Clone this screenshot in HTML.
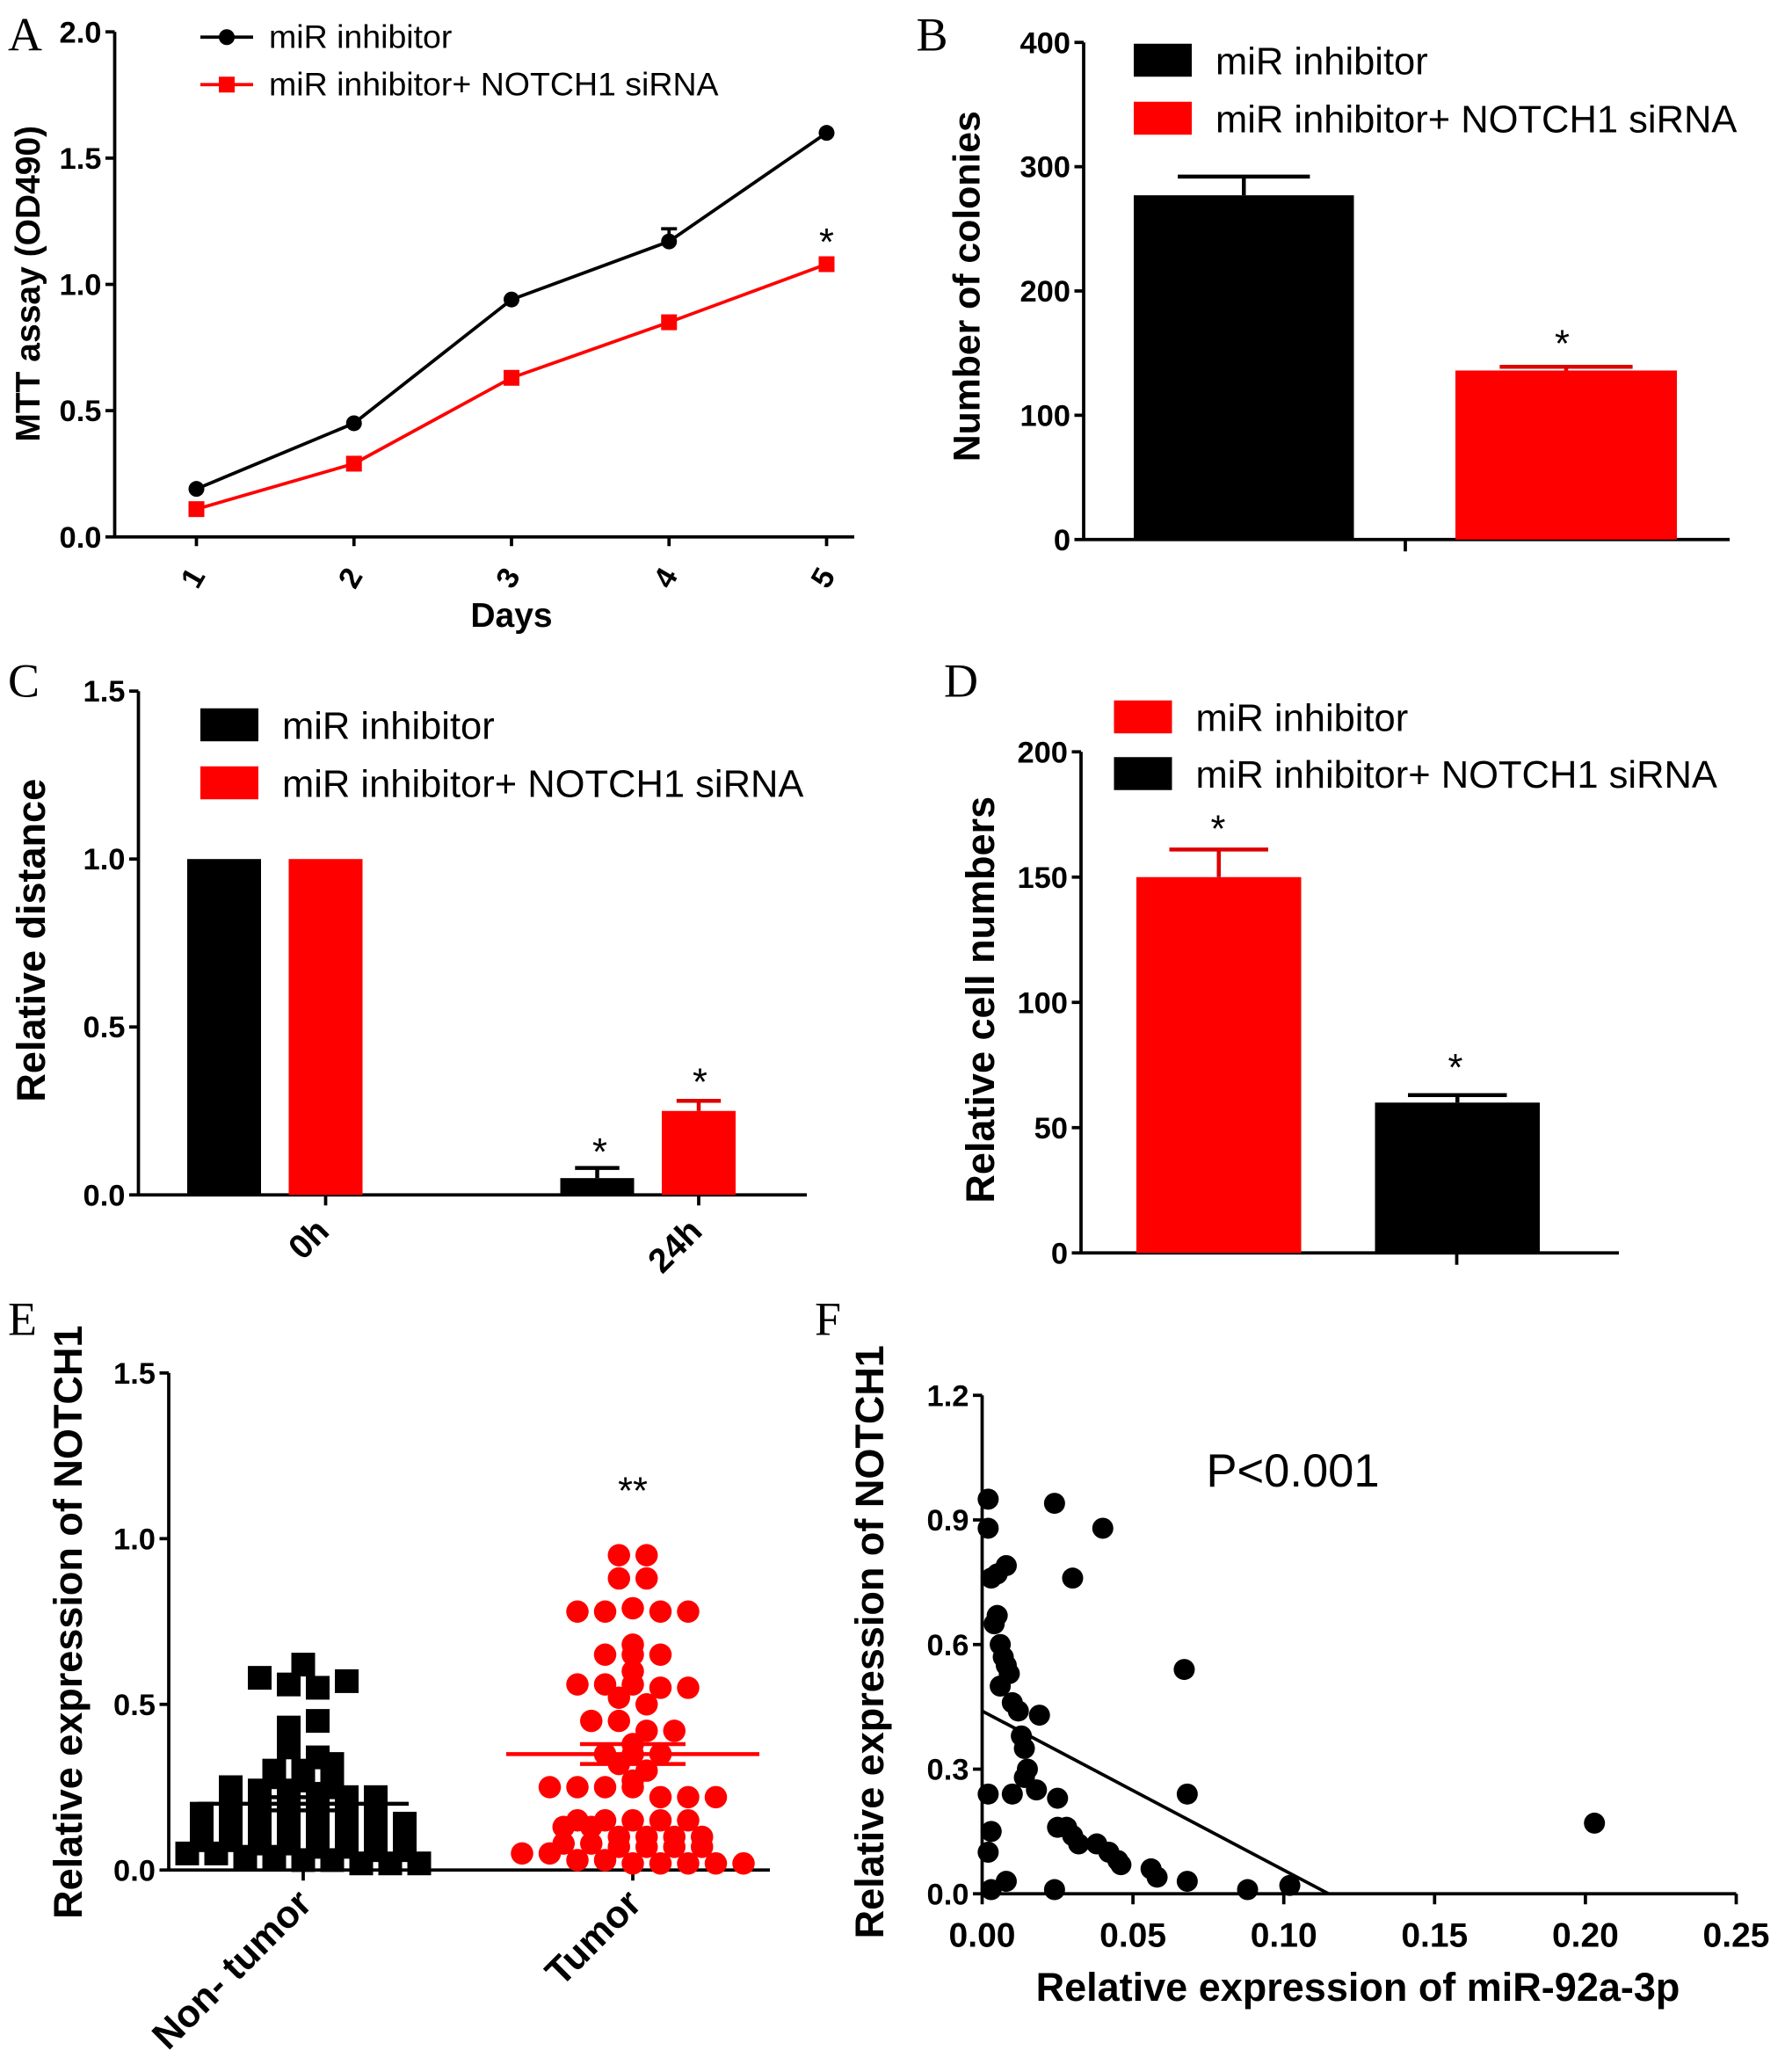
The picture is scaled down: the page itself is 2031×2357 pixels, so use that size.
<!DOCTYPE html>
<html><head><meta charset="utf-8"><style>
html,body{margin:0;padding:0;background:#fff;}
svg{display:block;font-family:"Liberation Sans",Arial,sans-serif;}
.tk{font-size:23px;font-weight:bold;}
.at{font-size:26px;font-weight:bold;}
.lg{font-size:29px;}
.pl{font-family:"Liberation Serif",serif;font-size:36px;}
</style></head><body>
<svg id="fig" width="2031" height="2357" viewBox="0 0 1354 1571" xmlns="http://www.w3.org/2000/svg">
<g id="A"></g>
<g id="B"></g>
<g id="C"></g>
<g id="D"></g>
<g id="E"></g>
<g id="F"></g>
</svg>
<script>
// Panel A data
const aDays = [1,2,3,4,5];
const aBlack = [0.19,0.45,0.94,1.17,1.60];
const aBlackErr = [0.01,0.01,0.01,0.05,0.01];
const aRed = [0.11,0.29,0.63,0.85,1.08];
const aTicks = [0,0.5,1.0,1.5,2.0];
const aTickLabels = ["0.0","0.5","1.0","1.5","2.0"];
// Panel B
const bValues = [277,136];
const bErr = [15,3];
const bTicks = [0,100,200,300,400];
// Panel C
const cGroups = ["0h","24h"];
const cBlack = [1.0,0.05];
const cBlackErr = [0,0.03];
const cRed = [1.0,0.25];
const cRedErr = [0,0.03];
const cTicks = [0,0.5,1.0,1.5];
const cTickLabels = ["0.0","0.5","1.0","1.5"];
// Panel D
const dValues = [150,60];
const dErr = [11,3];
const dTicks = [0,50,100,150,200];
// Panel E
const eNonTumor = [0.58,0.56,0.55,0.57,0.62,0.43,0.37,0.45,0.34,0.30,0.30,0.32,0.28,0.27,0.26,0.25,0.24,0.24,0.23,0.22,0.22,0.21,0.20,0.20,0.19,0.18,0.18,0.17,0.17,0.16,0.16,0.15,0.15,0.14,0.14,0.13,0.13,0.12,0.12,0.11,0.11,0.10,0.10,0.09,0.09,0.08,0.08,0.07,0.07,0.06,0.06,0.05,0.05,0.04,0.04,0.03,0.03,0.02,0.02,0.02];
const eTumor = [0.95,0.95,0.88,0.88,0.78,0.78,0.79,0.78,0.78,0.68,0.65,0.65,0.65,0.60,0.56,0.56,0.56,0.55,0.55,0.52,0.50,0.45,0.45,0.42,0.42,0.38,0.35,0.35,0.35,0.32,0.30,0.27,0.25,0.25,0.25,0.25,0.22,0.22,0.22,0.15,0.15,0.15,0.15,0.15,0.13,0.13,0.10,0.10,0.10,0.10,0.08,0.08,0.07,0.07,0.07,0.07,0.05,0.05,0.03,0.03,0.02,0.02,0.02,0.02,0.02];
const eMeans = [0.20,0.35];
const eSem = [0.02,0.03];
const eTicks = [0,0.5,1.0,1.5];
const eTickLabels = ["0.0","0.5","1.0","1.5"];
// Panel F
const fX = [0.002,0.024,0.040,0.002,0.008,0.005,0.003,0.030,0.005,0.004,0.006,0.007,0.008,0.009,0.006,0.067,0.010,0.012,0.019,0.013,0.014,0.015,0.014,0.010,0.002,0.018,0.025,0.068,0.025,0.028,0.030,0.032,0.038,0.042,0.045,0.046,0.056,0.058,0.068,0.088,0.102,0.003,0.002,0.008,0.003,0.024,0.203];
const fY = [0.95,0.94,0.88,0.88,0.79,0.77,0.76,0.76,0.67,0.65,0.60,0.57,0.55,0.53,0.50,0.54,0.46,0.44,0.43,0.38,0.35,0.30,0.28,0.24,0.24,0.25,0.23,0.24,0.16,0.16,0.14,0.12,0.12,0.10,0.08,0.07,0.06,0.04,0.03,0.01,0.02,0.15,0.10,0.03,0.01,0.01,0.17];
const fFit = [0.44,-3.83];
const fXTicks = [0,0.05,0.10,0.15,0.20,0.25];
const fXLabels = ["0.00","0.05","0.10","0.15","0.20","0.25"];
const fYTicks = [0,0.3,0.6,0.9,1.2];
const fYLabels = ["0.0","0.3","0.6","0.9","1.2"];

const NS="http://www.w3.org/2000/svg";
function el(p,tag,at){const e=document.createElementNS(NS,tag);for(const k in at)e.setAttribute(k,at[k]);p.appendChild(e);return e;}
function txt(p,x,y,s,cls,anchor,rot){const t=el(p,'text',{x:x,y:y,'class':cls,'text-anchor':anchor||'start'});if(rot)t.setAttribute('transform','rotate('+rot+' '+x+' '+y+')');t.textContent=s;return t;}
function line(p,x1,y1,x2,y2,c,w){return el(p,'line',{x1:x1,y1:y1,x2:x2,y2:y2,stroke:c||'#000','stroke-width':w||2.5});}
function yAxis(p,x,y0,y1,ticks,labels,sy){
  const a=line(p,x,y0,x,y1);
  
  
  ticks.forEach((v,i)=>{
    const t=line(p,x-7,sy(v),x,sy(v));
    
    
    const l=txt(p,x-10,sy(v)+8,labels[i],'tk','end');
    
    
  });
}
function xAxis(p,x0,x1,y){const a=line(p,x0,y,x1,y);
  
  }
function letter(p,s,x,y){const t=txt(p,x,y,s,'pl');
  
  }
function title(p,s,x,y,rot,name,size){const t=txt(p,x,y,s,'at','middle',rot);
  if(size)t.setAttribute('style','font-size:'+size+'px');
  
  }
function legBox(p,x,y,c,s,name){
  const r=el(p,'rect',{x:x,y:y,width:44,height:25,fill:c});
  
  
  const t=txt(p,x+62,y+23,s,'lg');
  
  
}
function bar(p,x,w,v,err,sy,c,name){
  const top=sy(v);
  const r=el(p,'rect',{x:x,y:top,width:w,height:sy(0)-top,fill:c});
  
  
  if(err>0){const e=line(p,x+w/2,top,x+w/2,sy(v+err),c==='#f00'?'#d00':'#000',3);
    
    
    const cap=line(p,x+w*0.2,sy(v+err),x+w*0.8,sy(v+err),c==='#f00'?'#d00':'#000',3);
    
    }
}
function star(p,x,y,s){const t=txt(p,x,y,s,'lg','middle');
  
  }

// ---------- A
(function(){
const g=document.getElementById('A');
const sy=v=>407-v*191.5, sx=d=>149+(d-1)*119.5;
letter(g,'A',6,38);
yAxis(g,87,407,24,aTicks,aTickLabels,sy);
xAxis(g,87,648,407);
aDays.forEach(d=>{const t=line(g,sx(d),407,sx(d),414);
  
  
  const l=txt(g,sx(d)+4,442,String(d),'tk','middle',-60);
  
  });
title(g,'Days',388,475,0,'x-axis-title');
title(g,'MTT assay (OD490)',30,215,-90,'y-axis-title');
const pb=aDays.map((d,i)=>sx(d)+','+sy(aBlack[i])).join(' ');
const lb=el(g,'polyline',{points:pb,fill:'none',stroke:'#000','stroke-width':2.5});


const pr=aDays.map((d,i)=>sx(d)+','+sy(aRed[i])).join(' ');
const lr=el(g,'polyline',{points:pr,fill:'none',stroke:'#f00','stroke-width':2.5});


aDays.forEach((d,i)=>{
  if(aBlackErr[i]>0.02){const e=line(g,sx(d),sy(aBlack[i]),sx(d),sy(aBlack[i]+aBlackErr[i]),'#000',2.5);
    
    
    const c=line(g,sx(d)-6,sy(aBlack[i]+aBlackErr[i]),sx(d)+6,sy(aBlack[i]+aBlackErr[i]),'#000',2.5);
    
    }
  const c=el(g,'circle',{cx:sx(d),cy:sy(aBlack[i]),r:6,fill:'#000'});
  
  
  const r=el(g,'rect',{x:sx(d)-6,y:sy(aRed[i])-6,width:12,height:12,fill:'#f00'});
  
  
});
star(g,627,193,'*');
const l1=line(g,152,28,192,28,'#000',2.5);


const m1=el(g,'circle',{cx:172,cy:28,r:6,fill:'#000'});


const t1=txt(g,204,36,'miR inhibitor','tk');t1.setAttribute('style','font-weight:normal;font-size:25px');


const l2=line(g,152,64,192,64,'#f00',2.5);


const m2=el(g,'rect',{x:166,y:58,width:12,height:12,fill:'#f00'});


const t2=txt(g,204,72,'miR inhibitor+ NOTCH1 siRNA','tk');t2.setAttribute('style','font-weight:normal;font-size:25px');


})();

// ---------- B
(function(){
const g=document.getElementById('B');
const sy=v=>409-v*0.9425;
letter(g,'B',695,38);
yAxis(g,822,409,32,bTicks,bTicks.map(String),sy);
xAxis(g,822,1312,409);
const t=line(g,1066,409,1066,418);


bar(g,860,167,bValues[0],bErr[0],sy,'#000','bar-miR-inhibitor');
bar(g,1104,168,bValues[1],bErr[1],sy,'#f00','bar-notch1-sirna');
star(g,1185,270,'*');
title(g,'Number of colonies',743,217,-90,'y-axis-title',28.5);
legBox(g,860,33,'#000','miR inhibitor','legend-entry-black');
legBox(g,860,77,'#f00','miR inhibitor+ NOTCH1 siRNA','legend-entry-red');
})();

// ---------- C
(function(){
const g=document.getElementById('C');
const sy=v=>906-v*254.7;
letter(g,'C',6,528);
yAxis(g,105,906,524,cTicks,cTickLabels,sy);
xAxis(g,105,612,906);
const gx=[247,530];
cGroups.forEach((s,i)=>{const t=line(g,gx[i],906,gx[i],914);
  
  
  const l=txt(g,gx[i]+4,935,s,'at','end',-45);
  
  
  bar(g,gx[i]-105,56,cBlack[i],cBlackErr[i],sy,'#000','bar-miR-inhibitor-'+s);
  bar(g,gx[i]-28,56,cRed[i],cRedErr[i],sy,'#f00','bar-notch1-sirna-'+s);
});
star(g,455,883,'*');
star(g,531,830,'*');
title(g,'Relative distance',34,713,-90,'y-axis-title',30);
legBox(g,152,537,'#000','miR inhibitor','legend-entry-black');
legBox(g,152,581,'#f00','miR inhibitor+ NOTCH1 siRNA','legend-entry-red');
})();

// ---------- D
(function(){
const g=document.getElementById('D');
const sy=v=>950-v*1.9;
letter(g,'D',716,528);
yAxis(g,820,950,570,dTicks,dTicks.map(String),sy);
xAxis(g,820,1228,950);
const t=line(g,1105,950,1105,959);


bar(g,862,125,dValues[0],dErr[0],sy,'#f00','bar-miR-inhibitor');
bar(g,1043,125,dValues[1],dErr[1],sy,'#000','bar-notch1-sirna');
star(g,924,638,'*');
star(g,1104,819,'*');
title(g,'Relative cell numbers',754,758,-90,'y-axis-title',30);
legBox(g,845,531,'#f00','miR inhibitor','legend-entry-red');
legBox(g,845,574,'#000','miR inhibitor+ NOTCH1 siRNA','legend-entry-black');
})();

// ---------- E
(function(){
const g=document.getElementById('E');
const sy=v=>1418-v*251.3;
letter(g,'E',6,1012);
yAxis(g,128,1418,1041,eTicks,eTickLabels,sy);
xAxis(g,128,584,1418);
const cx=[230,480];
['Non- tumor','Tumor'].forEach((s,i)=>{const t=line(g,cx[i],1418,cx[i],1426);
  
  
  const l=txt(g,cx[i]+8,1445,s,'at','end',-45);
  l.setAttribute('style','font-size:29px');
  
  });
title(g,'Relative expression of NOTCH1',62,1230,-90,'y-axis-title',30);
function swarm(vals,c,step){
  const rows={};
  vals.forEach(v=>{const r=Math.round(v/0.04);rows[r]=(rows[r]||0)+1;});
  const seen={};
  return vals.map(v=>{const r=Math.round(v/0.04);const k=seen[r]||0;seen[r]=k+1;
    return c+(k-(rows[r]-1)/2)*step;});
}
const bx=swarm(eNonTumor,cx[0],22);
eNonTumor.forEach((v,i)=>{const r=el(g,'rect',{x:bx[i]-9,y:sy(v)-9,width:18,height:18,fill:'#000'});
  
  });
const rx=swarm(eTumor,cx[1],21);
eTumor.forEach((v,i)=>{const c=el(g,'circle',{cx:rx[i],cy:sy(v),r:8.5,fill:'#f00'});
  
  });
const col=['#000','#f00'],hw=[80,96];
eMeans.forEach((m,i)=>{
  const ml=line(g,cx[i]-hw[i],sy(m),cx[i]+hw[i],sy(m),col[i],3);
  
  
  [1,-1].forEach(s=>{const e=line(g,cx[i]-40,sy(m+s*eSem[i]),cx[i]+40,sy(m+s*eSem[i]),col[i],3);
    
    });
});
star(g,480,1140,'**');
})();

// ---------- F
(function(){
const g=document.getElementById('F');
const sx=v=>745+v*2288, sy=v=>1436-v*315;
letter(g,'F',618,1012);
yAxis(g,745,1436,1058,fYTicks,fYLabels,sy);
xAxis(g,745,1317,1436);
fXTicks.forEach((v,i)=>{const t=line(g,sx(v),1436,sx(v),1444);
  
  
  const l=txt(g,sx(v),1476,fXLabels[i],'tk','middle');l.setAttribute('style','font-size:26px');
  
  });
title(g,'Relative expression of miR-92a-3p',1030,1517,0,'x-axis-title',30);
title(g,'Relative expression of NOTCH1',670,1245,-90,'y-axis-title',30);
fX.forEach((x,i)=>{const c=el(g,'circle',{cx:sx(x),cy:sy(fY[i]),r:8,fill:'#000'});
  
  });
const xEnd=-fFit[0]/fFit[1];
const fl=line(g,sx(0),sy(fFit[0]),sx(xEnd),sy(0),'#000',2.5);


const p=txt(g,915,1127,'P<0.001','lg');p.setAttribute('style','font-size:35px');


})();
</script>
</body></html>
